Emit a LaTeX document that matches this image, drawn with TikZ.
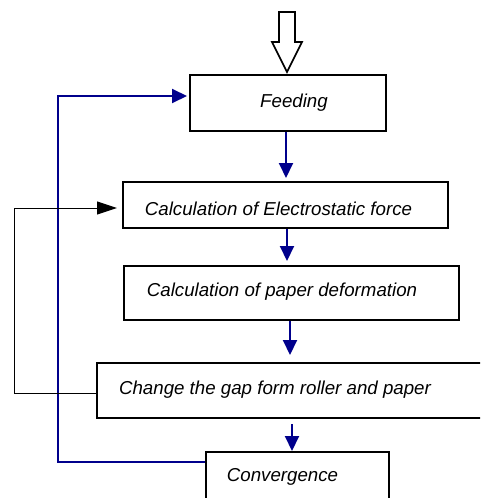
\documentclass[tikz,border=0pt]{standalone}
\usepackage{fontspec}
\setmainfont{Liberation Sans}
\usetikzlibrary{arrows.meta}
\definecolor{flowblue}{RGB}{0,0,140}
\tikzset{
  box/.style={draw=black, line width=2pt, rectangle, anchor=north west, inner sep=0pt},
  lbl/.style={font=\fontsize{18.7}{22}\selectfont\itshape, inner sep=0pt},
  bluearrow/.style={draw=flowblue, line width=2pt, -{Triangle[length=15pt,width=14pt]}},
  blueline/.style={draw=flowblue, line width=2pt},
  blackarrow/.style={draw=black, line width=1pt, -{Triangle[length=20pt,width=13pt]}},
}
\begin{document}
\begin{tikzpicture}[x=1pt,y=-1pt]
\useasboundingbox (0,0) rectangle (480,498);
\clip (0,0) rectangle (480,498);
% boxes
\node[box, minimum width=196pt, minimum height=56pt] (feed) at (189,74) {};
\node[box, minimum width=325pt, minimum height=46pt] (elec) at (122,181) {};
\node[box, minimum width=335pt, minimum height=54pt] (paper) at (123,265) {};
\node[box, minimum width=385pt, minimum height=55pt] (gap) at (96,362) {};
\node[box, minimum width=183pt, minimum height=60pt] (conv) at (205,451) {};
% texts
\node[lbl] (tfeed) at (294,103) {Feeding};
\node[lbl] (telec) at (278.5,209) {Calculation of Electrostatic force};
\node[lbl] (tpaper) at (282,292) {Calculation of paper deformation};
\node[lbl] (tgap) at (275,390) {Change the gap form roller and paper};
\node[lbl] (tconv) at (282.5,477) {Convergence};
% hollow input arrow
\coordinate (intip) at (287,72);
\draw[line width=1.6pt, line join=miter] (279,12) -- (295,12) -- (295,42) -- (302,42) -- (intip) -- (272,42) -- (279,42) -- cycle;
% flow arrows
\coordinate (a1) at (286,0);
\coordinate (a2) at (287,0);
\coordinate (a3) at (290,0);
\coordinate (a4) at (292,0);
\draw[bluearrow, shorten >=3pt] (feed.south -| a1) -- (elec.north -| a1);
\draw[bluearrow, shorten >=4pt] (elec.south -| a2) -- (paper.north -| a2);
\draw[bluearrow, shorten >=7pt] (paper.south -| a3) -- (gap.north -| a3);
\draw[bluearrow, shorten <=5pt] (gap.south -| a4) -- (conv.north -| a4);
% feedback loops
\coordinate (bl) at (58,0);
\coordinate (kl) at (14,0);
\coordinate (fy) at (0,96);
\coordinate (ey) at (0,208);
\coordinate (cy) at (0,462);
\coordinate (gy) at (0,393);
\draw[bluearrow, shorten >=2pt] (conv.west |- cy) -- (bl |- cy) -- (bl |- fy) -- (feed.west |- fy);
\draw[blackarrow, shorten >=5pt] (gap.west |- gy) -- (kl |- gy) -- (kl |- ey) -- (elec.west |- ey);
\end{tikzpicture}
\end{document}
